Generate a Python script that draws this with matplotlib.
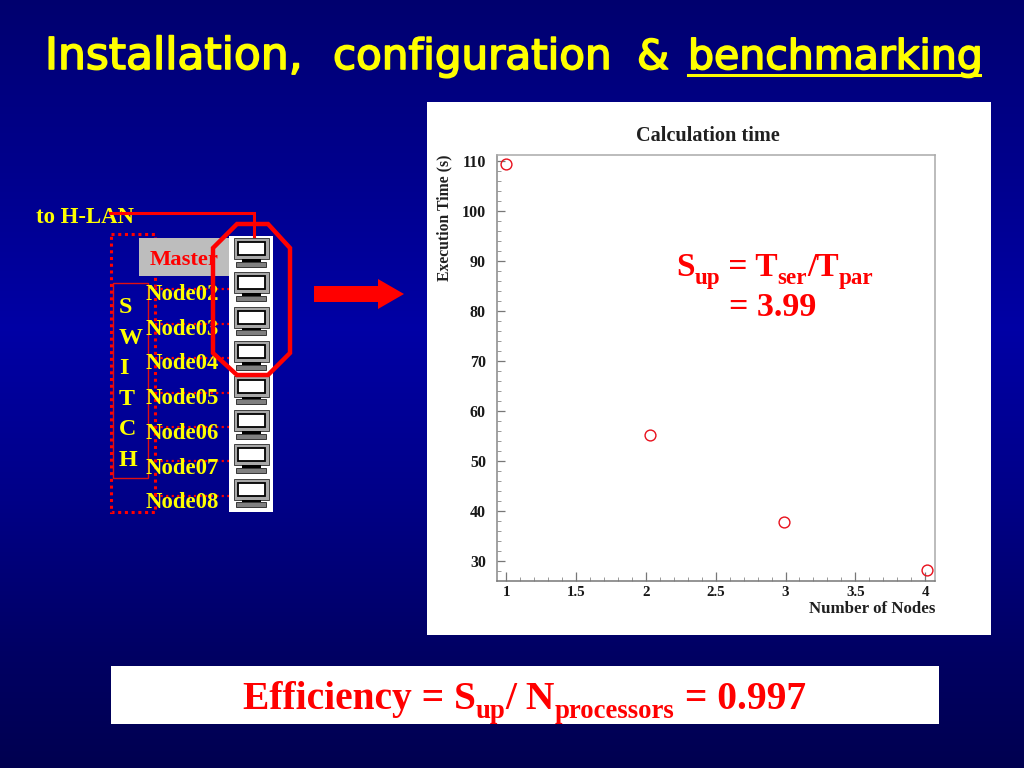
import matplotlib
matplotlib.use("Agg")
import matplotlib.pyplot as plt
import matplotlib.patheffects as pe
import numpy as np
from matplotlib.patches import Rectangle, Polygon

# chart values
nodes = [1.0, 2.03, 2.99, 4.01]
exec_time = [109.5, 55.2, 37.8, 28.2]
x_ticks = [1, 1.5, 2, 2.5, 3, 3.5, 4]
x_tick_labels = ["1", "1.5", "2", "2.5", "3", "3.5", "4"]
y_ticks = [30, 40, 50, 60, 70, 80, 90, 100, 110]
node_names = ["Node02", "Node03", "Node04", "Node05", "Node06", "Node07", "Node08"]
switch_letters = ["S", "W", "I", "T", "C", "H"]

W, H = 1024, 768
YELLOW = "#ffff00"
RED = "#ff0000"
SERIF = "Liberation Serif"


def pts(px):
    return px * 0.72


def runs(ax, x, y, parts, size, sub_size, drop, color):
    # text pieces with subscripts, placed one after the other
    rend = ax.figure.canvas.get_renderer()
    cx = x
    for s, sub in parts:
        t = ax.text(cx, y + (drop if sub else 0), s, fontsize=pts(sub_size if sub else size), color=color,
                    family=SERIF, weight="bold", ha="left", va="baseline")
        cx += t.get_window_extent(rend).width


def computer(ax, x, y, h):
    # little workstation icon, x,y = top left of the white tile
    ax.add_patch(Rectangle((x, y), 44, h, fc="white", ec="none", zorder=3))
    ax.add_patch(Rectangle((x + 5, y + 2), 35, 21, fc="#a8a8a8", ec="#404040", lw=0.7, zorder=4))
    ax.add_patch(Rectangle((x + 9, y + 6), 27, 13, fc="white", ec="black", lw=1.3, zorder=5))
    ax.add_patch(Rectangle((x + 13, y + 23), 19, 2.5, fc="black", ec="none", zorder=5))
    ax.add_patch(Rectangle((x + 7, y + 25.5), 30, 5, fc="#808080", ec="#202020", lw=0.6, zorder=5))


fig = plt.figure(figsize=(W / 100, H / 100), dpi=100)

# slide background
bg = fig.add_axes([0, 0, 1, 1], zorder=1)
stops_y = [0, 100, 330, 500, 650, 768]
stops_b = [110, 130, 165, 135, 100, 80]
grad = np.interp(np.arange(H), stops_y, stops_b) / 255
img = np.zeros((H, 1, 3))
img[:, 0, 2] = grad
bg.imshow(img, aspect="auto", extent=(0, W, H, 0))
bg.set_xlim(0, W)
bg.set_ylim(H, 0)
bg.axis("off")

# white panels
bg.add_patch(Rectangle((427, 102), 564, 533, fc="white", ec="none", zorder=1))
bg.add_patch(Rectangle((111, 666), 828, 58, fc="white", ec="none", zorder=1))

# title, word by word since DejaVu is narrower than the original face
stroke = [pe.withStroke(linewidth=1.2, foreground=YELLOW)]
for word, wx, wsize in [("Installation,", 45, 44), ("configuration", 333, 42), ("&", 637, 41), ("benchmarking", 688, 41)]:
    bg.text(wx, 69, word, fontsize=pts(wsize), color=YELLOW, family="DejaVu Sans",
            va="baseline", ha="left", path_effects=stroke)
bg.plot([688, 980], [75, 75], color=YELLOW, lw=2.2)

# network diagram
bg.add_patch(Rectangle((111, 234), 44, 278, fc="none", ec=RED, lw=2.2, ls=(0, (1, 1.2)), zorder=2))
bg.add_patch(Rectangle((139, 238), 92, 38, fc="#bdbdbd", ec="none", zorder=2.5))
bg.add_patch(Rectangle((113, 283), 35, 195, fc="none", ec="#e01010", lw=1, zorder=2))

top = 236
step = 34.4
for i in range(8):
    computer(bg, 229, top + i * step, step + 0.5)
for i, name in enumerate(node_names):
    yy = top + (i + 1) * step
    bg.plot([155, 231], [yy + 19, yy + 19], color=RED, lw=1.6, ls=(0, (1, 1.5)), zorder=2)
    bg.text(146, 300 + i * 34.7, name, fontsize=pts(22.7), color=YELLOW,
            family=SERIF, weight="bold", va="baseline", ha="left", zorder=4)
bg.text(150, 265, "Master", fontsize=pts(22.5), color=RED, family=SERIF, weight="bold",
        va="baseline", ha="left", zorder=4)
for i, ch in enumerate(switch_letters):
    bg.text(119, 313 + i * 30.6, ch, fontsize=pts(24), color=YELLOW, family=SERIF, weight="bold",
            va="baseline", ha="left", zorder=4)
bg.text(36, 223, "to H-LAN", fontsize=pts(22.7), color=YELLOW, family=SERIF, weight="bold",
        va="baseline", ha="left", zorder=4)

bg.plot([110, 254, 254], [213, 213, 236], color=RED, lw=2.2, zorder=6, solid_joinstyle="miter")
bg.add_patch(Polygon([(237, 224), (268, 224), (290, 248), (290, 353), (268, 375), (237, 375),
                      (213, 353), (213, 248)], closed=True, fc="none", ec=RED, lw=3.2, zorder=7))
# arrow
bg.add_patch(Polygon([(314, 286), (378, 286), (378, 279), (404, 294), (378, 309), (378, 302), (314, 302)],
                     closed=True, fc=RED, ec="none", zorder=3))

# scatter axes
left, right, ytop, ybot = 497, 935, 155, 581
ax = fig.add_axes([left / W, 1 - ybot / H, (right - left) / W, (ybot - ytop) / H], zorder=2)
ax.patch.set_alpha(0)
ax.plot(nodes, exec_time, ls="none", marker="o", ms=7.8, mfc="none", mec="#e8101c", mew=1.0)
ax.set_xlim(0.935, 4.07)
ax.set_ylim(26, 111.2)
ax.set_xticks(x_ticks)
ax.set_xticklabels(x_tick_labels)
ax.set_yticks(y_ticks)
ax.set_xticks(np.arange(1, 4.01, 0.1), minor=True)
ax.set_yticks(np.arange(28, 111, 2), minor=True)
ax.tick_params(axis="both", which="major", direction="in", length=6.5, width=0.9, color="#777777",
               labelsize=pts(15), pad=3.5)
ax.tick_params(axis="both", which="minor", direction="in", length=2.8, width=0.7, color="#999999")
ax.tick_params(axis="y", which="major", length=6, labelsize=pts(16), pad=8)
for lab in ax.get_xticklabels() + ax.get_yticklabels():
    lab.set_family(SERIF)
    lab.set_weight("bold")
    lab.set_color("#181818")
for side in ax.spines.values():
    side.set_color("#aaaaaa")
    side.set_linewidth(1.1)
ax.spines["left"].set_color("#888888")
ax.spines["bottom"].set_color("#777777")

# texts around the plot, on a top overlay
over = fig.add_axes([0, 0, 1, 1], zorder=3)
over.set_xlim(0, W)
over.set_ylim(H, 0)
over.axis("off")
over.patch.set_alpha(0)
over.text(708, 141, "Calculation time", fontsize=pts(20.3), family=SERIF, weight="bold",
          color="#202020", ha="center", va="baseline")
over.text(444, 218, "Execution Time (s)", fontsize=pts(15.7), family=SERIF, weight="bold",
          color="#202020", rotation=90, ha="center", va="center")
over.text(935, 613, "Number of Nodes", fontsize=pts(16.9), family=SERIF, weight="bold",
          color="#202020", ha="right", va="baseline")

fig.canvas.draw()
runs(over, 676, 276, [("S", 0), ("up", 1), (" = T", 0), ("ser", 1), ("/T", 0), ("par", 1)], 33.5, 23, 8, RED)
over.text(773, 316, "= 3.99", fontsize=pts(34), color=RED, family=SERIF, weight="bold",
          ha="center", va="baseline")
runs(over, 243, 709, [("Efficiency = S", 0), ("up", 1), ("/ N", 0), ("processors", 1), (" = 0.997", 0)], 39.5, 26.8, 9, RED)

fig.savefig("out.png", dpi=100)
